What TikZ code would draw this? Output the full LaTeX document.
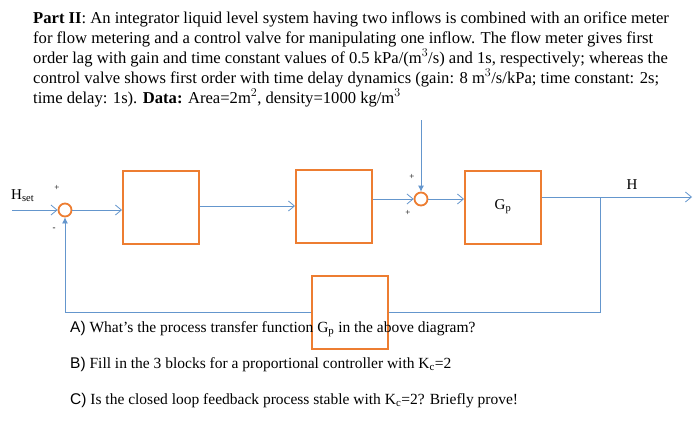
\documentclass[tikz,border=0pt]{standalone}
\usepackage{fontspec}
\setmainfont{Liberation Serif}
\newfontfamily\arialf{Liberation Sans}
\usetikzlibrary{arrows.meta}
\definecolor{borange}{RGB}{237,125,49}
\definecolor{wblue}{RGB}{100,150,205}
\begin{document}
\begin{tikzpicture}[x=1pt,y=-1pt,
  blk/.style={draw=borange,line width=2pt,fill=white,minimum width=76pt,minimum height=73pt,inner sep=0pt},
  sumn/.style={circle,draw=borange,line width=1.8pt,minimum size=13pt,inner sep=0pt},
  wire/.style={draw=wblue,line width=0.8pt},
  arr/.style={wire,->,>={Straight Barb[length=6pt,width=10pt]}},
  tarr/.style={wire,-{Latex[length=6pt,width=6pt]}},
  txt/.style={anchor=base west,inner sep=0pt,font=\fontsize{16.6}{19}\selectfont},
  q/.style={anchor=base west,inner sep=0pt,font=\fontsize{15.5}{18}\selectfont}]
\useasboundingbox[fill=white] (0,0) rectangle (700,439);
\node[txt] (l1) at (33,23) {\textbf{Part II}: An integrator liquid level system having two inflows is combined with an orifice meter};
\node[txt] (l2) at (33,43) {for flow metering and a control valve for manipulating one inflow. The flow meter gives first};
\node[txt] (l3) at (33,63) {order lag with gain and time constant values of 0.5 kPa/(m$^3$/s) and 1s, respectively; whereas the};
\node[txt] (l4) at (33,83) {control valve shows first order with time delay dynamics (gain: 8 m$^3$/s/kPa; time constant: 2s;};
\node[txt] (l5) at (33,103) {time delay: 1s). \textbf{Data:} Area=2m$^2$, density=1000 kg/m$^3$};
\coordinate (in) at (12,210);
\node[sumn] (s1) at (65,210) {};
\node[blk] (b1) at (161,207) {};
\node[blk] (b2) at (334,206) {};
\node[sumn] (s2) at (421,199) {};
\coordinate (top) at (421,120);
\node[blk] (gp) at (503,207) {\fontsize{15}{18}\selectfont G$_\mathrm{p}$};
\coordinate (tap) at (600,197);
\coordinate (out) at (692,197);
\node[blk] (fb) at (350,312) {};
\draw[arr] (in) -- (s1);
\draw[arr] (s1) -- (b1.west|-s1);
\draw[arr] (b1.east|-b2) -- (b2.west);
\draw[arr] (b2.east|-s2) -- (s2);
\draw[tarr] (top) -- (s2);
\draw[arr] (s2) -- (gp.west|-s2);
\draw[wire] (gp.east|-tap) -- (tap);
\draw[arr] (tap) -- (out);
\draw[wire] (tap) |- (fb.east);
\draw[tarr] (fb.west) -| (s1.south);
\node[anchor=base west,inner sep=0pt,font=\fontsize{15}{17}\selectfont] (hs) at (11,199) {H$_\mathrm{set}$};
\node[anchor=base,inner sep=0pt,font=\fontsize{15}{17}\selectfont] (hl) at (632,189) {H};
\node[font=\small,inner sep=0pt] (p1) at (57,188) {+};
\node[font=\small,inner sep=0pt] (m1) at (54,229) {-};
\node[font=\small,inner sep=0pt] (p2) at (412,177) {+};
\node[font=\small,inner sep=0pt] (p3) at (408,213) {+};
\node[q] (qa) at (70,332) {{\arialf A)} What's the process transfer function G$_\mathrm{p}$ in the above diagram?};
\node[q] (qb) at (70,368) {{\arialf B)} Fill in the 3 blocks for a proportional controller with K$_\mathrm{c}$=2};
\node[q] (qc) at (70,404) {{\arialf C)} Is the closed loop feedback process stable with K$_\mathrm{c}$=2? Briefly prove!};
\end{tikzpicture}
\end{document}
